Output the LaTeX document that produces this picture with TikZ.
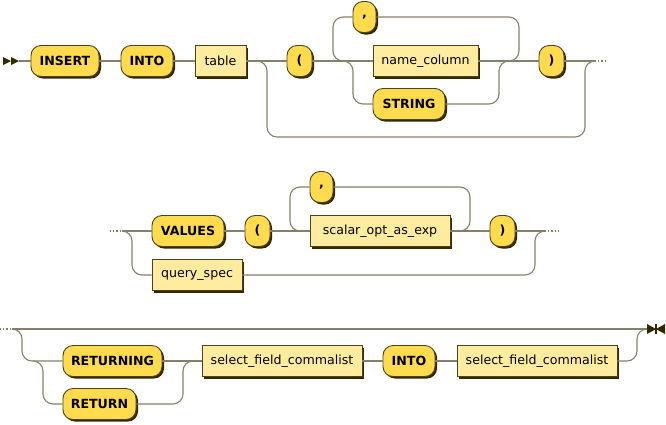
\documentclass[tikz,border=0pt]{standalone}
\usepackage{fontspec}
\setmainfont{DejaVu Sans}
\usetikzlibrary{shadows}
\definecolor{termfill}{HTML}{FFDB4D}
\definecolor{ntfill}{HTML}{FFEC9E}
\definecolor{boxdraw}{HTML}{4A4220}
\definecolor{shadowc}{HTML}{332900}
\definecolor{linec}{HTML}{85806A}
\tikzset{
  boxbase/.style={draw=boxdraw, line width=0.9pt, minimum height=31pt, inner sep=0pt,
    general shadow={fill=shadowc, shadow xshift=2pt, shadow yshift=-2pt},
    font=\fontsize{12.6}{14}\selectfont, text=black},
  term/.style={boxbase, fill=termfill, rounded corners=10pt, font=\fontsize{12.6}{14}\selectfont\bfseries},
  nonterm/.style={boxbase, fill=ntfill},
  rr/.style={draw=linec, line width=1.1pt, rounded corners=10pt},
  rrdots/.style={draw=linec, line width=1.1pt, dash pattern=on 1.2pt off 2pt},
  marker/.style={fill=shadowc, draw=none},
}
\begin{document}
\begin{tikzpicture}[x=1pt,y=-1pt]
\useasboundingbox (0,0) rectangle (666,424);
% ---------- row 1 ----------
\coordinate (start) at (19,61);
\fill[marker] (3,57) -- (11,61) -- (3,65) -- cycle;
\fill[marker] (11,57) -- (19,61) -- (11,65) -- cycle;
\node[term, minimum width=68pt] (insert) at (65,61) {INSERT};
\node[term, minimum width=52pt] (into1) at (147,61) {INTO};
\node[nonterm, minimum width=51pt] (table) at (220.5,61) {table};
\node[term, minimum width=25pt] (lp1) at (299.5,61) {(};
\node[term, minimum width=23pt] (comma1) at (364.5,17) {,};
\node[nonterm, minimum width=105pt] (namecol) at (425.5,61) {name\_column};
\node[term, minimum width=72pt] (string) at (409,104) {STRING};
\node[term, minimum width=25pt] (rp1) at (551.5,61) {)};
\coordinate (r1out) at (595,61);
\coordinate (r1dots) at (607,61);

\draw[rr] (start) -- (insert.west);
\draw[rr] (insert.east) -- (into1.west);
\draw[rr] (into1.east) -- (table.west);
\draw[rr] (table.east) -- (lp1.west);
\draw[rr] (table.east) -- (267,61) -- (267,137) -- (585,137) -- (585,61) -- (r1out);
\draw[rr] (lp1.east) -- (namecol.west);
\draw[rr] (comma1.west) -- (333,17) -- (333,61) -- (343,61);
\draw[rr] (namecol.east) -- (519,61) -- (519,17) -- (comma1.east);
\draw[rr] (343,61) -- (353,61) -- (353,104) -- (string.west);
\draw[rr] (string.east) -- (499,104) -- (499,61) -- (509,61);
\draw[rr] (namecol.east) -- (rp1.west);
\draw[rr] (rp1.east) -- (r1out);
\draw[rrdots] (r1out) -- (r1dots);
% ---------- row 2 ----------
\coordinate (r2dots) at (110,231);
\coordinate (r2in) at (122,231);
\node[term, minimum width=72pt] (values) at (188,231) {VALUES};
\node[term, minimum width=25pt] (lp2) at (257.5,231) {(};
\node[term, minimum width=23pt] (comma2) at (321.5,187) {,};
\node[nonterm, minimum width=140pt] (scalar) at (380,231) {scalar\_opt\_as\_exp};
\node[term, minimum width=25pt] (rp2) at (502.5,231) {)};
\node[nonterm, minimum width=90pt] (qspec) at (197,275) {query\_spec};
\coordinate (r2out) at (545,231);
\coordinate (r2dotsend) at (558,231);

\draw[rrdots] (r2dots) -- (r2in);
\draw[rr] (r2in) -- (values.west);
\draw[rr] (r2in) -- (132,231) -- (132,275) -- (qspec.west);
\draw[rr] (values.east) -- (lp2.west);
\draw[rr] (lp2.east) -- (scalar.west);
\draw[rr] (comma2.west) -- (290,187) -- (290,231) -- (300,231);
\draw[rr] (scalar.east) -- (470,231) -- (470,187) -- (comma2.east);
\draw[rr] (scalar.east) -- (rp2.west);
\draw[rr] (rp2.east) -- (r2out);
\draw[rr] (qspec.east) -- (535,275) -- (535,231) -- (r2out);
\draw[rrdots] (r2out) -- (r2dotsend);
% ---------- row 3 ----------
\coordinate (r3dots) at (0,329);
\coordinate (r3in) at (12,329);
\node[term, minimum width=99pt] (returning) at (112.5,361) {RETURNING};
\node[term, minimum width=73pt] (return) at (99.5,404) {RETURN};
\node[nonterm, minimum width=160pt] (sfc1) at (282,361) {select\_field\_commalist};
\node[term, minimum width=52pt] (into2) at (409,361) {INTO};
\node[nonterm, minimum width=160pt] (sfc2) at (537,361) {select\_field\_commalist};
\coordinate (endm) at (647,329);
\fill[marker] (647,324) -- (656,329) -- (647,334) -- cycle;
\fill[marker] (665,324) -- (656,329) -- (665,334) -- cycle;
\fill[marker] (655.3,324) rectangle (656.7,334);

\draw[rrdots] (r3dots) -- (r3in);
\draw[rr] (r3in) -- (endm);
\draw[rr] (r3in) -- (22,329) -- (22,361) -- (returning.west);
\draw[rr] (33,361) -- (43,361) -- (43,404) -- (return.west);
\draw[rr] (returning.east) -- (sfc1.west);
\draw[rr] (return.east) -- (183,404) -- (183,361) -- (193,361);
\draw[rr] (sfc1.east) -- (into2.west);
\draw[rr] (into2.east) -- (sfc2.west);
\draw[rr] (sfc2.east) -- (637,361) -- (637,329) -- (endm);
\end{tikzpicture}
\end{document}
